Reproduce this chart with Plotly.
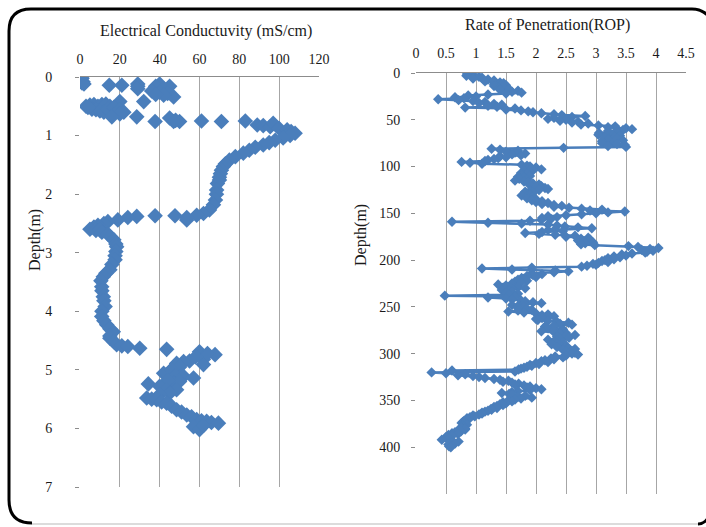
import plotly.graph_objects as go

# ---------------- data ----------------
ec_values = [0.5, 1, 0.5, 1.5, 1, 2, 14.7, 21, 29, 29, 29, 40, 38, 45, 42, 36, 40, 44, 47, 42, 38, 32, 20,
             3, 5, 7, 9, 11, 13, 15, 6, 8, 10, 12, 14, 4, 17, 20, 22, 20,
             16, 28.5, 37.7, 45, 47, 50, 48, 61, 71, 83, 89, 92, 95.5, 97, 100, 104, 106, 108, 105.5, 102, 98,
             95, 92, 88, 85, 82, 78, 75, 73, 72, 71, 70.5, 70, 70, 69, 68.6, 68.5, 68, 67, 65, 62, 58.6, 53.6,
             53.6, 47.7, 37.7, 28.5, 24, 19, 14,
             12, 9, 7, 5, 8, 10, 11, 14, 15, 17, 18, 18.4, 18, 17.6, 17.6, 16, 15, 13, 11.7, 10.5, 10.9, 11,
             11.7, 12, 12.6, 11, 10.9, 12, 13.4, 15, 16.7, 15, 15, 17, 18.4, 21, 24, 30,
             43.5, 60, 67.8, 64, 62, 62, 58, 55, 52, 48.5, 50, 45, 42, 46, 48, 52, 57, 47, 50, 44, 34.3, 40,
             43.5, 48.5, 45, 40, 33.5, 36, 38.5, 41, 43.5, 46, 48.5, 51, 53.6, 56, 58.6, 61, 63.6, 66, 69.5,
             57, 60, 62]
ec_depths = [0.0, 0.02, 0.05, 0.08, 0.1, 0.12, 0.14, 0.14, 0.12, 0.16, 0.2, 0.12, 0.16, 0.16, 0.2, 0.24, 0.26,
             0.28, 0.34, 0.31, 0.3, 0.42, 0.42,
             0.5, 0.48, 0.47, 0.5, 0.47, 0.46, 0.5, 0.55, 0.56, 0.58, 0.6, 0.55, 0.52, 0.52, 0.56, 0.6, 0.63,
             0.68, 0.68, 0.76, 0.70, 0.76, 0.76, 0.74, 0.75, 0.76, 0.75, 0.82, 0.83, 0.85, 0.79, 0.88, 0.9,
             0.93, 0.96, 1.0, 1.04, 1.08,
             1.12, 1.16, 1.2, 1.25, 1.3, 1.36, 1.42, 1.48, 1.53, 1.59, 1.65, 1.71, 1.76, 1.82, 1.93, 2.0,
             2.1, 2.18, 2.27, 2.33, 2.36, 2.44,
             2.40, 2.37, 2.37, 2.38, 2.40, 2.44, 2.47,
             2.5, 2.53, 2.56, 2.6, 2.62, 2.61, 2.65, 2.68, 2.72, 2.78, 2.85, 2.9, 2.98, 3.05, 3.12, 3.2,
             3.29, 3.35, 3.41, 3.48, 3.58, 3.65,
             3.75, 3.82, 3.92, 4.0, 4.09, 4.16, 4.23, 4.3, 4.35, 4.42, 4.46, 4.52, 4.57, 4.59, 4.60, 4.63,
             4.65, 4.69, 4.74, 4.72, 4.82, 4.91, 4.78, 4.85, 4.86, 4.89, 4.95, 5.03, 5.06, 5.0, 5.1, 5.11,
             5.14, 5.23, 5.2, 5.18, 5.24, 5.28,
             5.34, 5.34, 5.4, 5.42, 5.48, 5.5, 5.51, 5.55, 5.57, 5.62, 5.68, 5.72, 5.77, 5.8, 5.85, 5.87,
             5.88, 5.9, 5.91,
             5.97, 6.02, 5.95]

rop_depths = [
    1, 2, 3, 4, 5, 6, 7, 8, 9, 10, 11, 12, 13, 14, 15, 16, 17, 18, 19, 20,
    21, 22, 23, 24, 25, 26, 27, 28, 29, 30, 31, 32, 33, 34, 35, 36, 37, 38, 39, 40,
    41, 42, 43, 44, 45, 46, 47, 48, 49, 50, 51, 52, 53, 54, 55, 56, 57, 58, 59, 60,
    61, 62, 63, 64, 65, 66, 67, 68, 69, 70, 71, 72, 73, 74, 75, 76, 77, 78, 79, 80,
    81, 82, 83, 84, 85, 86, 87, 88, 89, 90, 91, 92, 93, 94, 95, 96, 97, 98, 99, 100,
    101, 102, 103, 104, 105, 106, 107, 108, 109, 110, 111, 112, 113, 114, 115, 116, 117, 118, 119, 120,
    121, 122, 123, 124, 125, 126, 127, 128, 129, 130, 131, 132, 133, 134, 135, 136, 137, 138, 139, 140,
    141, 142, 143, 144, 145, 146, 147, 148, 149, 150, 151, 152, 153, 154, 155, 156, 157, 158, 159, 160,
    161, 162, 163, 164, 165, 166, 167, 168, 169, 170, 171, 172, 173, 174, 175, 176, 177, 178, 179, 180,
    181, 182, 183, 184, 185, 186, 187, 188, 189, 190, 191, 192, 193, 194, 195, 196, 197, 198, 199, 200,
    201, 202, 203, 204, 205, 206, 207, 208, 209, 210, 211, 212, 213, 214, 215, 216, 217, 218, 219, 220,
    221, 222, 223, 224, 225, 226, 227, 228, 229, 230, 231, 232, 233, 234, 235, 236, 237, 238, 239, 240,
    241, 242, 243, 244, 245, 246, 247, 248, 249, 250, 251, 252, 253, 254, 255, 256, 257, 258, 259, 260,
    261, 262, 263, 264, 265, 266, 267, 268, 269, 270, 271, 272, 273, 274, 275, 276, 277, 278, 279, 280,
    281, 282, 283, 284, 285, 286, 287, 288, 289, 290, 291, 292, 293, 294, 295, 296, 297, 298, 299, 300,
    301, 302, 303, 304, 305, 306, 307, 308, 309, 310, 311, 312, 313, 314, 315, 316, 317, 318, 319, 320,
    321, 322, 323, 324, 325, 326, 327, 328, 329, 330, 331, 332, 333, 334, 335, 336, 337, 338, 339, 340,
    341, 342, 343, 344, 345, 346, 347, 348, 349, 350, 351, 352, 353, 354, 355, 356, 357, 358, 359, 360,
    361, 362, 363, 364, 365, 366, 367, 368, 369, 370, 371, 372, 373, 374, 375, 376, 377, 378, 379, 380,
    381, 382, 383, 384, 385, 386, 387, 388, 389, 390, 391, 392, 393, 394, 395, 396, 397, 398, 399, 400]
rop_values = [
    0.85, 0.95, 0.84, 1.05, 1.1, 0.95, 1.2, 1.3, 1.15, 1.4, 1.46, 1.3, 1.5, 1.3, 1.45, 1.38, 1.55, 1.4, 1.7, 1.6,
    1.76, 1.5, 1.2, 0.87, 1.0, 0.65, 0.8, 0.37, 0.71, 0.95, 1.15, 1.05, 1.3, 1.43, 1.2, 1.35, 0.82, 1.65, 1.5, 1.75,
    1.87, 1.95, 2.09, 2.3, 2.43, 2.82, 2.6, 2.3, 2.2, 2.5, 2.4, 2.7, 2.6, 2.87, 2.75, 3.04, 3.32, 3.2, 3.5, 3.6,
    3.45, 3.2, 3.35, 3.05, 3.3, 3.04, 3.4, 3.32, 3.15, 3.35, 3.2, 3.45, 3.1, 3.3, 3.1, 3.35, 3.48, 3.2, 3.5, 2.46,
    1.26, 1.4, 1.7, 1.5, 1.65, 1.82, 1.6, 1.75, 1.4, 1.5, 1.37, 1.3, 1.2, 1.15, 0.76, 0.9, 1.1, 1.76, 1.85, 1.9,
    2.0, 1.93, 2.09, 1.95, 1.8, 1.9, 1.75, 1.85, 1.76, 1.9, 1.7, 1.8, 1.72, 1.85, 1.65, 1.8, 1.87, 1.95, 2.05, 1.9,
    2.09, 2.0, 2.15, 2.2, 2.05, 1.9, 1.82, 1.95, 1.8, 1.9, 1.76, 1.85, 1.93, 1.85, 2.0, 1.93, 2.1, 2.0, 2.2, 2.1,
    2.3, 2.43, 2.3, 2.55, 2.76, 3.1, 2.9, 3.48, 3.2, 3.0, 2.76, 2.5, 2.2, 2.35, 2.1, 2.25, 2.09, 1.9, 0.6, 1.2,
    1.76, 2.2, 2.35, 2.48, 2.7, 2.93, 2.32, 2.2, 2.45, 2.1, 1.82, 2.05, 2.32, 2.65, 2.5, 2.87, 2.75, 2.9, 2.7, 2.8,
    2.95, 2.82, 2.75, 2.98, 3.54, 3.7, 4.04, 3.9, 3.76, 3.95, 3.85, 3.82, 3.6, 3.43, 3.5, 3.3, 3.4, 3.2, 3.3, 3.15,
    3.1, 3.2, 3.04, 2.95, 3.0, 2.85, 2.76, 1.93, 1.1, 1.6, 2.32, 2.54, 2.3, 1.93, 2.1, 1.95, 1.85, 2.0, 1.76, 1.8,
    1.7, 1.85, 1.65, 1.75, 1.6, 1.37, 1.5, 1.6, 1.7, 1.82, 1.6, 1.43, 1.55, 1.6, 1.5, 1.7, 1.55, 0.48, 1.65, 1.2,
    1.5, 1.6, 1.75, 1.82, 1.95, 2.09, 1.8, 1.6, 1.7, 1.8, 1.7, 1.85, 1.93, 1.7, 1.54, 1.8, 2.0, 2.2, 2.1, 2.3,
    2.2, 2.1, 2.0, 2.03, 2.2, 2.35, 2.54, 2.4, 2.6, 2.3, 2.15, 2.3, 2.2, 2.45, 2.3, 2.09, 2.3, 2.5, 2.4, 2.65,
    2.5, 2.35, 2.55, 2.4, 2.2, 2.35, 2.3, 2.45, 2.35, 2.26, 2.4, 2.5, 2.35, 2.54, 2.65, 2.45, 2.6, 2.5, 2.65, 2.6,
    2.7, 2.5, 2.32, 2.45, 2.25, 2.3, 2.15, 2.09, 2.2, 2.0, 2.05, 1.9, 1.93, 1.85, 1.8, 1.75, 1.71, 0.6, 1.65, 0.26,
    0.5, 0.82, 0.7, 0.95, 1.05, 1.15, 1.3, 1.4, 1.54, 1.45, 1.6, 1.71, 1.65, 1.8, 1.9, 1.85, 2.0, 2.09, 1.9, 1.7,
    1.6, 1.43, 1.55, 1.6, 1.82, 1.7, 1.93, 1.75, 1.65, 1.54, 1.6, 1.45, 1.5, 1.4, 1.45, 1.35, 1.3, 1.35, 1.25, 1.26,
    1.2, 1.15, 1.1, 1.1, 1.05, 0.95, 0.98, 0.9, 0.85, 0.88, 0.85, 0.8, 0.78, 0.76, 0.8, 0.85, 0.78, 0.8, 0.75, 0.82,
    0.82, 0.7, 0.75, 0.65, 0.6, 0.7, 0.54, 0.6, 0.5, 0.5, 0.55, 0.43, 0.6, 0.71, 0.6, 0.65, 0.54, 0.6, 0.55, 0.58]

ec_ticks = [0, 20, 40, 60, 80, 100, 120]
ec_depth_ticks = [0, 1, 2, 3, 4, 5, 6, 7]
rop_ticks = [0, 0.5, 1, 1.5, 2, 2.5, 3, 3.5, 4, 4.5]
rop_tick_text = ["0", "0.5", "1", "1.5", "2", "2.5", "3", "3.5", "4", "4.5"]
rop_depth_ticks = [0, 50, 100, 150, 200, 250, 300, 350, 400]

title_ec = "Electrical Conductuvity (mS/cm)"
title_rop = "Rate of Penetration(ROP)"
title_depth = "Depth(m)"

# ---------------- styling ----------------
W, H = 706, 527
BLUE = "#4a7ebb"
GRID = "#a6a6a6"
FONT = "Liberation Serif"
TXT = "#1a1a1a"


def fx(p):
    return p / W


def fy(p):
    return 1 - p / H


fig = go.Figure()
fig.add_trace(go.Scatter(x=ec_values, y=ec_depths, mode="markers",
                         marker=dict(symbol="diamond", size=12, color=BLUE, line=dict(width=0)),
                         xaxis="x", yaxis="y", hoverinfo="skip"))
fig.add_trace(go.Scatter(x=rop_values, y=rop_depths, mode="lines+markers",
                         line=dict(color=BLUE, width=2.5),
                         marker=dict(symbol="diamond", size=8, color=BLUE, line=dict(width=0)),
                         xaxis="x2", yaxis="y2", hoverinfo="skip"))

tickfont = dict(family=FONT, size=14, color=TXT)

fig.update_layout(
    width=W, height=H,
    margin=dict(l=0, r=0, t=0, b=0),
    paper_bgcolor="white", plot_bgcolor="white",
    showlegend=False,
    xaxis=dict(domain=[fx(80), fx(319)], range=[0, 120], side="top", anchor="y",
               tickvals=ec_ticks, ticks="", showgrid=True, gridcolor=GRID, gridwidth=1.3,
               showline=True, linecolor="#8c8c8c", linewidth=1.3, zeroline=False,
               tickfont=tickfont, ticklabelstandoff=6, automargin=False),
    yaxis=dict(domain=[fy(487), fy(77)], range=[7, 0], anchor="x",
               tickvals=ec_depth_ticks, ticks="outside", ticklen=4, tickcolor="#8c8c8c",
               showgrid=False, zeroline=False, showline=False,
               tickfont=tickfont, ticklabelstandoff=20, automargin=False),
    xaxis2=dict(domain=[fx(416), fx(686)], range=[0, 4.5], side="top", anchor="y2",
                tickvals=rop_ticks, ticktext=rop_tick_text, ticks="", showgrid=True,
                gridcolor=GRID, gridwidth=1.3, showline=True, linecolor="#8c8c8c", linewidth=1.3,
                zeroline=False, tickfont=tickfont, ticklabelstandoff=8, automargin=False),
    yaxis2=dict(domain=[fy(494), fy(73)], range=[450, 0], anchor="x2",
                tickvals=rop_depth_ticks, ticks="outside", ticklen=4, tickcolor="#8c8c8c",
                showgrid=False, zeroline=False, showline=False,
                tickfont=tickfont, ticklabelstandoff=8, automargin=False),
)

ann_font = dict(family=FONT, size=16, color=TXT)
fig.add_annotation(text=title_ec, x=fx(206), y=fy(31), xref="paper", yref="paper",
                   showarrow=False, font=ann_font, xanchor="center", yanchor="middle")
fig.add_annotation(text=title_rop, x=fx(547), y=fy(25), xref="paper", yref="paper",
                   showarrow=False, font=ann_font, xanchor="center", yanchor="middle")
fig.add_annotation(text=title_depth, x=fx(35), y=fy(240), xref="paper", yref="paper",
                   showarrow=False, font=ann_font, textangle=-90, xanchor="center", yanchor="middle")
fig.add_annotation(text=title_depth, x=fx(361), y=fy(235), xref="paper", yref="paper",
                   showarrow=False, font=ann_font, textangle=-90, xanchor="center", yanchor="middle")

# rounded frame around the picture
r = 22
frame = (f"M {fx(9)},{fy(500)} L {fx(9)},{fy(9 + r)} Q {fx(9)},{fy(9)} {fx(9 + r)},{fy(9)} "
         f"L {fx(692)},{fy(9)} Q {fx(704)},{fy(9)} {fx(712)},{fy(20)}")
fig.add_shape(type="path", path=frame, xref="paper", yref="paper",
              line=dict(color="black", width=3))
corner = f"M {fx(9)},{fy(500)} Q {fx(9)},{fy(523)} {fx(32)},{fy(523)}"
fig.add_shape(type="path", path=corner, xref="paper", yref="paper",
              line=dict(color="black", width=3))
fig.add_shape(type="line", x0=fx(32), x1=fx(698), y0=fy(524), y1=fy(524), xref="paper", yref="paper",
              line=dict(color="#d0d0d0", width=1.5))
fig.add_shape(type="path", path=f"M {fx(698)},{fy(524)} Q {fx(704)},{fy(524)} {fx(708)},{fy(518)}",
              xref="paper", yref="paper", line=dict(color="black", width=3))

fig.write_html("out.html")
